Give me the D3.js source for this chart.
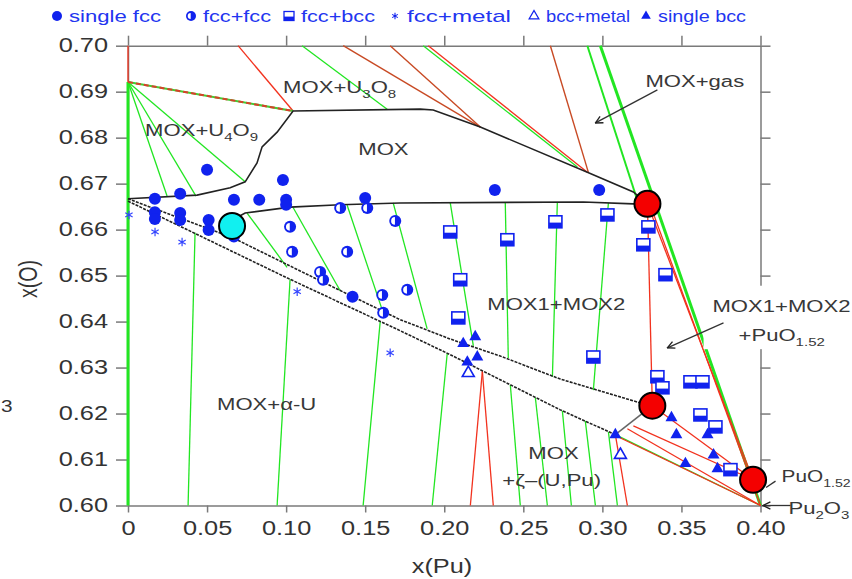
<!DOCTYPE html>
<html><head><meta charset="utf-8">
<script src="https://cdn.jsdelivr.net/npm/d3@7"></script>
<style>body{margin:0;background:#fff}svg{display:block}text{font-family:"Liberation Sans",Arial,sans-serif}</style>
</head><body><svg id="c" width="852" height="579"></svg>
<script>
// ---------- DATA ----------
const xTicks = [0, 0.05, 0.10, 0.15, 0.20, 0.25, 0.30, 0.35, 0.40];
const yTicks = [0.60, 0.61, 0.62, 0.63, 0.64, 0.65, 0.66, 0.67, 0.68, 0.69, 0.70];

// experimental points [x(Pu), x(O)]
const singleFcc = [[0.017,0.6667],[0.017,0.6638],[0.017,0.6623],[0.033,0.6678],[0.033,0.6636],[0.033,0.6621],
  [0.050,0.6730],[0.051,0.6621],[0.051,0.6599],[0.067,0.6665],[0.067,0.6585],[0.083,0.6665],[0.098,0.6708],
  [0.100,0.6665],[0.100,0.6654],[0.150,0.6669],[0.142,0.6454],[0.232,0.6686],[0.298,0.6686]];
const fccFcc = [[0.1025,0.6606],[0.1038,0.6552],[0.1215,0.6508],[0.1234,0.6491],[0.1342,0.6647],[0.1386,0.6552],
  [0.1513,0.6647],[0.169,0.6619],[0.1608,0.6458],[0.1614,0.6419],[0.1766,0.6469]];
const fccBcc = [[0.2038,0.6595],[0.2399,0.6578],[0.2703,0.6617],[0.3032,0.6632],[0.3291,0.6606],[0.3259,0.6567],
  [0.3399,0.6502],[0.2101,0.6491],[0.2089,0.6408],[0.2943,0.6323],[0.3348,0.6280],[0.338,0.6256],[0.3557,0.6269],
  [0.3633,0.6269],[0.362,0.6197],[0.3715,0.6171],[0.381,0.6078]];
const fccMetal = [[0.0006,0.6632],[0.0171,0.6595],[0.0342,0.6573],[0.107,0.6465],[0.1658,0.6332]];
const bccMetal = [[0.2152,0.6288],[0.3114,0.6110]];
const singleBcc = [[0.2196,0.6367],[0.212,0.6352],[0.2209,0.6323],[0.2146,0.6312],[0.3082,0.6154],[0.3437,0.6191],
  [0.3468,0.6154],[0.3525,0.6091],[0.3703,0.6110],[0.3728,0.6080],[0.3665,0.6154]];

// calculated phase boundaries
const boundaryMoxUpper = [[0,0.6667],[0.0437,0.6675],[0.0646,0.6691],[0.0741,0.6704],[0.0816,0.6745],[0.0848,0.678],
  [0.0943,0.6812],[0.1044,0.6858],[0.1848,0.6862],[0.193,0.686],[0.2228,0.6823],[0.2905,0.6725],[0.3196,0.6682],[0.3285,0.6656]];
const boundaryGapUpper = [[0.0658,0.6621],[0.0741,0.6636],[0.1025,0.6649],[0.1342,0.6654],[0.1722,0.6658],[0.288,0.666],
  [0.3196,0.6656],[0.3285,0.6656]];
const boundaryGapLower = [[0,0.6667],[0.0665,0.6582],[0.1089,0.6510],[0.1722,0.6404],[0.2038,0.6362],[0.2354,0.6325],
  [0.2734,0.6275],[0.3241,0.6223],[0.3316,0.6217]];
const boundaryMoxLower = [[0,0.6662],[0.1006,0.6495],[0.1722,0.6380],[0.2038,0.6328],[0.2734,0.6208],[0.3082,0.6154]];
const boundaryConnector = [[0.3082,0.6154],[0.3316,0.6217]];

// tie lines
const greenTies = [
  [[0,0.6921],[0.0247,0.6673]],[[0,0.6921],[0.043,0.6673]],[[0,0.6921],[0.0741,0.6704]],
  [[0.1101,0.70],[0.1639,0.6862]],[[0.1867,0.70],[0.2842,0.6736]],
  [[0.0753,0.6636],[0.1006,0.6518]],[[0.1044,0.6648],[0.1342,0.6467]],[[0.1386,0.6653],[0.1614,0.6419]],
  [[0.1677,0.6658],[0.1892,0.6384]],[[0.2038,0.6658],[0.2184,0.6347]],[[0.2386,0.6658],[0.2405,0.6321]],
  [[0.2715,0.6658],[0.2684,0.6280]],[[0.3038,0.6658],[0.2943,0.6251]],
  [[0.0424,0.6593],[0.038,0.60]],[[0.1025,0.6492],[0.0943,0.60]],[[0.1595,0.6400],[0.1487,0.60]],
  [[0.2019,0.6331],[0.1924,0.60]],[[0.2418,0.6262],[0.2481,0.60]],[[0.2576,0.6235],[0.2652,0.60]],
  [[0.2747,0.6206],[0.2804,0.60]],[[0.2892,0.6184],[0.2956,0.60]],[[0.3038,0.6160],[0.3095,0.60]],
  [[0.3082,0.6154],[0.40,0.60]]
];
const greenThick = [[[0,0.6921],[0,0.60]],[[0.2987,0.70],[0.40,0.60]]];
const greenMedium = [[[0.2905,0.70],[0.322,0.6665]]];
const redTies = [
  [[0,0.70],[0,0.6921]],[[0.0696,0.70],[0.1044,0.6858]],[[0.1899,0.70],[0.2905,0.6725]],
  [[0.2241,0.6292],[0.2165,0.60]],[[0.2241,0.6292],[0.231,0.60]],[[0.3082,0.6154],[0.3158,0.60]],
  [[0.3285,0.6656],[0.3316,0.6217]],[[0.3285,0.6656],[0.3953,0.6056]],[[0.3300,0.6656],[0.40,0.60]],
  [[0.3316,0.6217],[0.3953,0.6056]],[[0.3095,0.6150],[0.40,0.60]],[[0.3158,0.6167],[0.40,0.60]],
  [[0.3196,0.6173],[0.3953,0.6056]]
];
const brownTies = [[[0.1361,0.70],[0.2228,0.6823]],[[0.1658,0.70],[0.2228,0.6823]],[[0.2671,0.70],[0.2911,0.6725]]];
const dashedTie = [[0,0.6921],[0.1044,0.6858]];

// special points
const redPoints = [[0.3285,0.6656],[0.3316,0.6217],[0.3953,0.6056]];
const cyanPoints = [[0.0658,0.6608]];

// annotations
const arrows = [[[0.3348,0.6904],[0.2956,0.6832]],[[0.3766,0.6397],[0.3411,0.6343]],[[0.419,0.60],[0.4017,0.60]]];
const leaders = [[[0.4035,0.6039],[0.4095,0.6053]]];
const labels = [
  {parts:["MOX+U",["3"],"O",["8"]], x:0.0981, y:0.6897},
  {parts:["MOX+U",["4"],"O",["9"]], x:0.0108, y:0.6804},
  {parts:["MOX"], x:0.1456, y:0.6762},
  {parts:["MOX+gas"], x:0.3272, y:0.6910},
  {parts:["MOX1+MOX2"], x:0.2272, y:0.6425},
  {parts:["MOX1+MOX2"], x:0.3696, y:0.6421},
  {parts:["+PuO",["1.52"]], x:0.3861, y:0.6358},
  {parts:["MOX+α-U"], x:0.0563, y:0.6208},
  {parts:["MOX"], x:0.2532, y:0.6102},
  {parts:["+ζ–(U,Pu)"], x:0.2367, y:0.6043},
  {parts:["PuO",["1.52"]], x:0.4133, y:0.6051, size:16},
  {parts:["Pu",["2"],"O",["3"]], x:0.4177, y:0.5982}
];
const legendItems = ["single fcc","fcc+fcc","fcc+bcc","fcc+metal","bcc+metal","single bcc"];

// ---------- DRAW ----------
const SX = 1.3;
const BLUE = "#1022ee";
const svg = d3.select("#c");
const x = d3.scaleLinear().domain([0, 0.40]).range([128, 760.5]);
const y = d3.scaleLinear().domain([0.60, 0.70]).range([505.5, 45.7]);
const line = d3.line().x(d => x(d[0])).y(d => y(d[1]));

function stext(parent, px, py, parts, o) {
  const g = parent.append("g").attr("transform", `translate(${px},${py}) scale(${o.sx || SX},1)`);
  const t = g.append("text").attr("font-size", o.size).attr("fill", o.fill || "#383838")
    .attr("text-anchor", o.anchor || "start");
  let shifted = false;
  const sh = Math.round(o.size * 0.3);
  parts.forEach(p => {
    if (typeof p === "string") {
      const ts = t.append("tspan").text(p);
      if (shifted) { ts.attr("dy", -sh); shifted = false; }
    } else {
      t.append("tspan").text(p[0]).attr("font-size", o.size * 0.68).attr("dy", shifted ? 0 : sh);
      shifted = true;
    }
  });
  return g;
}

// axes
const axG = svg.append("g").attr("color", "#7a7a7a");
const axB = axG.append("g").attr("transform", "translate(0,505.5)")
  .call(d3.axisBottom(x).tickValues(xTicks).tickSize(7).tickSizeOuter(0).tickPadding(9)
    .tickFormat(d => d === 0 ? "0" : d3.format(".2f")(d)));
const axL = axG.append("g").attr("transform", "translate(128,0)")
  .call(d3.axisLeft(y).tickValues(yTicks).tickSize(12).tickSizeOuter(0).tickFormat(d3.format(".2f")));
axG.append("g").attr("transform", "translate(0,45.7)")
  .call(d3.axisTop(x).tickValues(xTicks).tickSize(10).tickSizeOuter(0).tickFormat(""));
axG.append("g").attr("transform", "translate(760.5,0)")
  .call(d3.axisRight(y).tickValues(yTicks).tickSize(10).tickSizeOuter(0).tickFormat(""));
axG.selectAll("path.domain, line").attr("stroke-width", 1.5);
axB.selectAll("text").attr("font-size", 19.5).attr("fill", "#333").attr("transform", `scale(${SX},1)`);
axL.selectAll("text").attr("font-size", 19.5).attr("fill", "#333").attr("transform", `scale(${SX},1)`)
  .attr("x", -20 / SX);

// axis titles
stext(svg, 442, 573, ["x(Pu)"], {size: 19.5, anchor: "middle", fill: "#333"});
svg.append("text").attr("transform", `translate(37,279) rotate(-90) scale(1,${SX})`)
  .attr("text-anchor", "middle").attr("font-size", 19.5).attr("fill", "#333").text("x(O)");
stext(svg, 1, 412, ["3"], {size: 16, anchor: "start", fill: "#333"});

// tie lines
const lines = svg.append("g").attr("fill", "none");
lines.selectAll(".gt").data(greenTies).join("path").attr("d", line).attr("stroke", "#22e622").attr("stroke-width", 1.3);
lines.selectAll(".gk").data(greenThick).join("path").attr("d", line).attr("stroke", "#22e622").attr("stroke-width", 3);
lines.selectAll(".gm").data(greenMedium).join("path").attr("d", line).attr("stroke", "#22e622").attr("stroke-width", 2);
lines.selectAll(".rt").data(redTies).join("path").attr("d", line).attr("stroke", "#f2321e").attr("stroke-width", 1.3);
lines.selectAll(".bt").data(brownTies).join("path").attr("d", line).attr("stroke", "#c84a24").attr("stroke-width", 1.4);
lines.append("path").datum(dashedTie).attr("d", line).attr("stroke", "#44cc33").attr("stroke-width", 2);
lines.append("path").datum(dashedTie).attr("d", line).attr("stroke", "#d8402a").attr("stroke-width", 2).attr("stroke-dasharray", "5,3");

// boundaries
const bnd = svg.append("g").attr("fill", "none").attr("stroke", "#222").attr("stroke-width", 1.6);
[boundaryMoxUpper, boundaryGapUpper].forEach(b => bnd.append("path").datum(b).attr("d", line));
[boundaryGapLower, boundaryMoxLower].forEach(b => bnd.append("path").datum(b).attr("d", line)
  .attr("stroke-dasharray", "3,1.2"));
bnd.append("path").datum(boundaryConnector).attr("d", line).attr("stroke", "#666");

// markers
const mk = svg.append("g");
mk.selectAll(".sf").data(singleFcc).join("circle").attr("cx", d => x(d[0])).attr("cy", d => y(d[1]))
  .attr("r", 6).attr("fill", BLUE);
function halfCircle(g) {
  g.append("circle").attr("r", 6).attr("fill", BLUE);
  g.append("path").attr("d", "M-0.3,-3.8 A3.8,3.8 0 0,0 -0.3,3.8 Z").attr("fill", "#fff");
}
function halfSquare(g) {
  g.append("rect").attr("x", -6.5).attr("y", -6).attr("width", 13).attr("height", 12)
    .attr("fill", "#fff").attr("stroke", BLUE).attr("stroke-width", 1.6);
  g.append("rect").attr("x", -6.5).attr("y", 0.8).attr("width", 13).attr("height", 5.2).attr("fill", BLUE);
}
mk.selectAll(".ff").data(fccFcc).join("g").attr("transform", d => `translate(${x(d[0])},${y(d[1])})`).each(function(){ halfCircle(d3.select(this)); });
mk.selectAll(".fb").data(fccBcc).join("g").attr("transform", d => `translate(${x(d[0])},${y(d[1])})`).each(function(){ halfSquare(d3.select(this)); });
const ast = d3.symbol(d3.symbolAsterisk, 50);
mk.selectAll(".fm").data(fccMetal).join("path").attr("transform", d => `translate(${x(d[0])},${y(d[1])})`)
  .attr("d", ast).attr("fill", "none").attr("stroke", "#3344ff").attr("stroke-width", 1.2);
const tri = d3.symbol(d3.symbolTriangle, 62);
mk.selectAll(".bm").data(bccMetal).join("path").attr("transform", d => `translate(${x(d[0])},${y(d[1])})`)
  .attr("d", tri).attr("fill", "#fff").attr("stroke", BLUE).attr("stroke-width", 1.6);
mk.selectAll(".sb").data(singleBcc).join("path").attr("transform", d => `translate(${x(d[0])},${y(d[1])})`)
  .attr("d", tri).attr("fill", BLUE);

// highlighted points
svg.append("g").selectAll("circle").data(redPoints).join("circle").attr("cx", d => x(d[0])).attr("cy", d => y(d[1]))
  .attr("r", 13).attr("fill", "#f40000").attr("stroke", "#000").attr("stroke-width", 2);
svg.append("g").selectAll("circle").data(cyanPoints).join("circle").attr("cx", d => x(d[0])).attr("cy", d => y(d[1]))
  .attr("r", 13).attr("fill", "#11f0f0").attr("stroke", "#000").attr("stroke-width", 2);

// label background for 3-phase label
svg.append("rect").attr("x", x(0.3640)).attr("y", y(0.6478)).attr("width", 852 - x(0.3640)).attr("height", y(0.6340) - y(0.6478)).attr("fill", "#fff");

// arrows
const defs = svg.append("defs");
defs.append("marker").attr("id", "ah").attr("viewBox", "0 0 10 10").attr("refX", 9).attr("refY", 5)
  .attr("markerWidth", 9).attr("markerHeight", 9).attr("orient", "auto-start-reverse").attr("markerUnits", "userSpaceOnUse")
  .append("path").attr("d", "M1,1 L9,5 L1,9").attr("fill", "none").attr("stroke", "#222").attr("stroke-width", 1.5);
svg.append("g").selectAll("path").data(arrows).join("path").attr("d", line).attr("fill", "none")
  .attr("stroke", "#333").attr("stroke-width", 1.3).attr("marker-end", "url(#ah)");
svg.append("g").selectAll("path").data(leaders).join("path").attr("d", line).attr("fill", "none")
  .attr("stroke", "#333").attr("stroke-width", 1.3);

// labels
const lg = svg.append("g");
labels.forEach(l => stext(lg, x(l.x), y(l.y), l.parts, {size: l.size || 17}));

// legend (layout)
const legX = [57, 191, 289, 395, 534, 646];
const legW = [92, 68, 74, 104, 84, 88];
const legY = 16;
const leg = svg.append("g");
legendItems.forEach((t, i) => {
  const g = leg.append("g").attr("transform", `translate(${legX[i]},${legY})`);
  if (i === 0) g.append("circle").attr("r", 5).attr("fill", BLUE);
  if (i === 1) { g.append("circle").attr("r", 5).attr("fill", BLUE); g.append("path").attr("d", "M-0.3,-3 A3,3 0 0,0 -0.3,3 Z").attr("fill", "#fff"); }
  if (i === 2) { g.append("rect").attr("x", -5).attr("y", -4.5).attr("width", 10).attr("height", 9).attr("fill", "#fff").attr("stroke", BLUE).attr("stroke-width", 1.3);
                 g.append("rect").attr("x", -5).attr("y", 0.6).attr("width", 10).attr("height", 3.9).attr("fill", BLUE); }
  if (i === 3) g.append("path").attr("d", d3.symbol(d3.symbolAsterisk, 30)).attr("fill", "none").attr("stroke", BLUE).attr("stroke-width", 1.1);
  if (i === 4) g.append("path").attr("d", d3.symbol(d3.symbolTriangle, 40)).attr("fill", "#fff").attr("stroke", BLUE).attr("stroke-width", 1.3);
  if (i === 5) g.append("path").attr("d", d3.symbol(d3.symbolTriangle, 40)).attr("fill", BLUE);
  leg.append("text").attr("x", legX[i] + 12).attr("y", legY + 6).attr("font-size", 17).attr("fill", "#2235f0")
    .attr("textLength", legW[i]).attr("lengthAdjust", "spacingAndGlyphs").text(t);
});
</script>
</body></html>
